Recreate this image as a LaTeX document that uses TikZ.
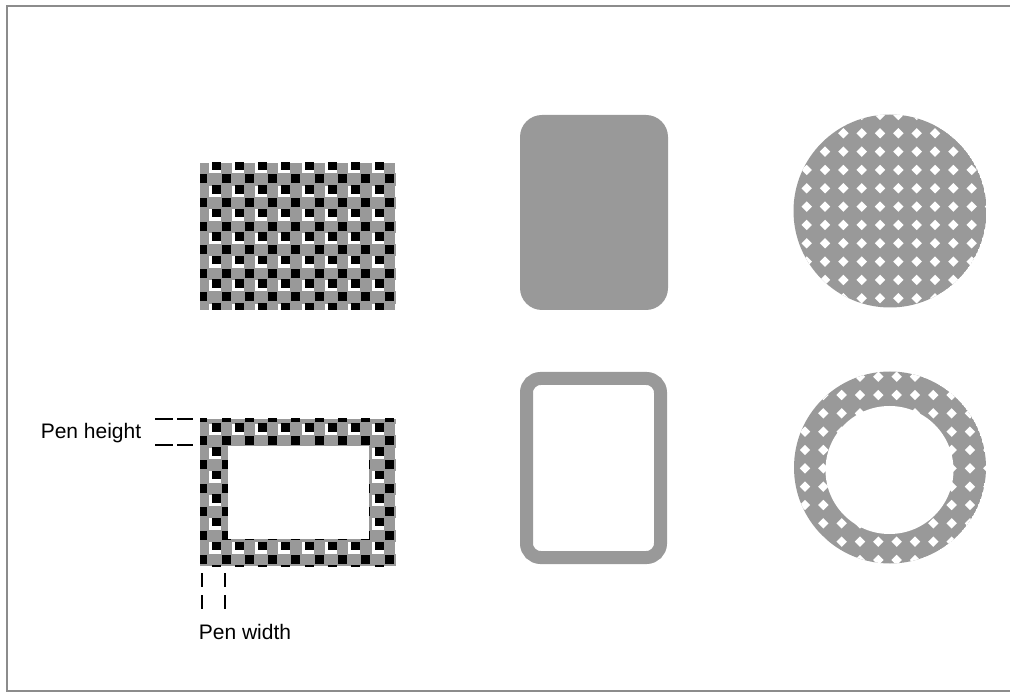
\documentclass[tikz,border=0pt]{standalone}
\usepackage{fontspec}
\setmainfont{Liberation Sans}
\definecolor{pengray}{RGB}{153,153,153}
\definecolor{framegray}{RGB}{140,140,140}
\tikzset{
  penlabel/.style={font=\fontsize{21}{24}\selectfont, inner sep=0pt},
  penmark/.style={line width=2pt, black},
  dot/.style={white}
}
\begin{document}
\begin{tikzpicture}[x=1pt, y=-1pt]
    \useasboundingbox (0,0) rectangle (1010,692);

    % 窗口边框
    \draw[framegray, line width=2pt] (1012,6) -- (7,6) -- (7,691) -- (1012,691);

    % 左上: 图案填充的矩形
    \begin{scope}
        \clip (200,163) rectangle (396,310);
        \fill[pengray] (200,163) rectangle (396,310);
        \foreach \i in {-1,...,8} \foreach \j in {-1,...,6} {
            \fill[white] ({200+\i*23.33+8.5}, {163+\j*23.6-1}) rectangle +(12,11.5);
            \fill[black] ({200+\i*23.33+11.5}, {163+\j*23.6-1.5}) rectangle +(9,8.5);
            \fill[black] ({200+\i*23.33+21.5}, {163+\j*23.6+11.5}) rectangle +(9,9);
        }
    \end{scope}

    % 左下: 画笔宽度画出的矩形边框
    \begin{scope}
        \clip (200,419) rectangle (396,566);
        \fill[pengray] (200,419) rectangle (396,566);
        \foreach \i in {-1,...,8} \foreach \j in {-1,...,6} {
            \fill[white] ({200+\i*23.33+8.5}, {419+\j*23.6+5}) rectangle +(12,11.5);
            \fill[black] ({200+\i*23.33+11.5}, {419+\j*23.6+4.5}) rectangle +(9,8.5);
            \fill[black] ({200+\i*23.33+21.5}, {419+\j*23.6+17.5}) rectangle +(9,9);
        }
    \end{scope}
    \fill[white] (228,446) rectangle (369,539);

    % 画笔高度和宽度的标注
    \draw[penmark, dash pattern=on 18pt off 4pt] (155,419) -- (193,419);
    \draw[penmark, dash pattern=on 18pt off 4pt] (155,445) -- (193,445);
    \node[penlabel] (penheight) at (91,433) {Pen height};
    \draw[penmark, dash pattern=on 14pt off 8pt] (202,573) -- (202,610);
    \draw[penmark, dash pattern=on 14pt off 8pt] (225,573) -- (225,610);
    \node[penlabel] (penwidth) at (245,632) {Pen width};

    % 中间: 圆角矩形
    \fill[pengray, rounded corners=22pt] (520,115) rectangle (668,310);
    \draw[pengray, line width=13pt, rounded corners=14pt] (526.5,378.5) rectangle (660.5,557.5);

    % 右上: 圆
    \begin{scope}
        \clip (890,211) circle (96.5);
        \fill[pengray] (890,211) circle (96.5);
        \foreach \i in {0,...,10} \foreach \j in {-1,...,10} {
            \fill[dot] ({806.7+\i*18.33}, {133.3+\j*18.33}) +(-5.2,0) -- +(0,-5.2) -- +(5.2,0) -- +(0,5.2) -- cycle;
        }
    \end{scope}

    % 右下: 圆环
    \begin{scope}
        \clip (890,467.5) circle (96);
        \fill[pengray] (890,467.5) circle (96);
        \foreach \i in {0,...,10} \foreach \j in {0,...,10} {
            \fill[dot] ({805+\i*18.33}, {376.7+\j*18.33}) +(-5.2,0) -- +(0,-5.2) -- +(5.2,0) -- +(0,5.2) -- cycle;
        }
    \end{scope}
    \fill[white] (889.5,470) circle (64);
\end{tikzpicture}
\end{document}
